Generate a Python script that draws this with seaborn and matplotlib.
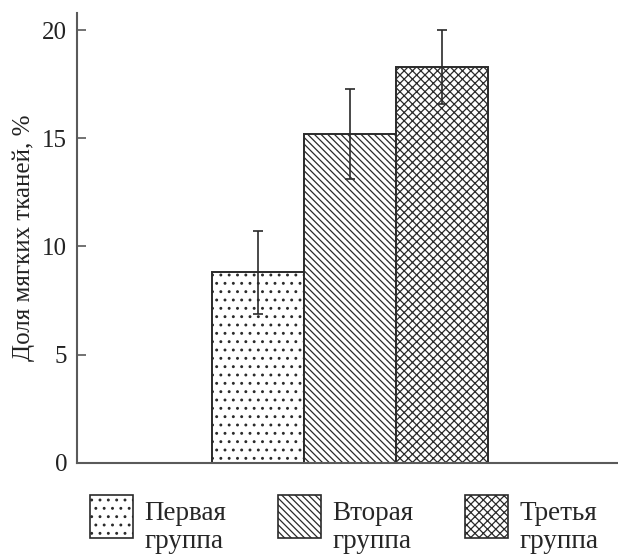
import matplotlib
matplotlib.use("Agg")
import matplotlib.pyplot as plt
import seaborn as sns
import pandas as pd
from matplotlib.patches import Patch, Rectangle
from matplotlib.legend_handler import HandlerPatch

# Share of soft tissue per group: mean and spread
groups = ["Первая\nгруппа", "Вторая\nгруппа", "Третья\nгруппа"]
means = [8.8, 15.2, 18.3]
errors = [1.9, 2.1, 1.7]
hatches = ["..", "\\\\\\\\\\", "xxxx"]
y_ticks = [0, 5, 10, 15, 20]
y_label = "Доля мягких тканей, %"

df = pd.DataFrame({"group": groups, "mean": means, "err": errors})

sns.set_style("ticks")
plt.rcParams["font.family"] = ["Liberation Serif", "DejaVu Serif"]
plt.rcParams["hatch.linewidth"] = 0.9
plt.rcParams["hatch.color"] = "#2a2a2a"

ink = "#2a2a2a"
spine = "#5a5a5a"

fig = plt.figure(figsize=(6.18, 5.55), dpi=100)
ax = fig.add_axes([0.1246, 0.1663, 0.8754, 0.8103])

sns.barplot(data=df, x="group", y="mean", hue="group",
            palette=["white"] * 3, edgecolor=ink, linewidth=1.4,
            width=1.0, errorbar=None, legend=False, ax=ax)

for patch, h in zip(ax.patches, hatches):
    patch.set_hatch(h)

ax.errorbar(range(len(groups)), df["mean"], yerr=df["err"], fmt="none",
            ecolor=ink, elinewidth=1.2, capsize=3.4, capthick=1.2, zorder=5)

ax.set_xlim(-1.962, 3.918)
ax.set_ylim(0, 20.8)
ax.set_yticks(y_ticks)
ax.set_xticks([])
ax.set_xlabel("")
ax.set_ylabel(y_label, fontsize=18, color="#222222", labelpad=5.5)
ax.tick_params(axis="y", direction="in", length=6.5, width=1.2, color=spine,
               labelsize=18, labelcolor="#222222", pad=7)

sns.despine(ax=ax)
for side in ("left", "bottom"):
    ax.spines[side].set_color(spine)
    ax.spines[side].set_linewidth(1.5)


def raised_square(legend, orig_handle, xdescent, ydescent, width, height,
                  fontsize):
    # legend swatch lifted so it sits level with the two-line label
    return Rectangle((-xdescent, -ydescent + 8.6), width, height)


handles = [Patch(facecolor="white", edgecolor=ink, linewidth=1.2, hatch=h)
           for h in hatches]
fig.legend(handles, groups, loc="upper left", bbox_to_anchor=(0.1456, 0.098),
           ncol=3, frameon=False, fontsize=19.5, handlelength=1.59,
           handleheight=2.06, handletextpad=0.42, columnspacing=1.9,
           borderaxespad=0, borderpad=0, labelspacing=0,
           handler_map={Patch: HandlerPatch(patch_func=raised_square)})

fig.savefig("out.png", dpi=100)
